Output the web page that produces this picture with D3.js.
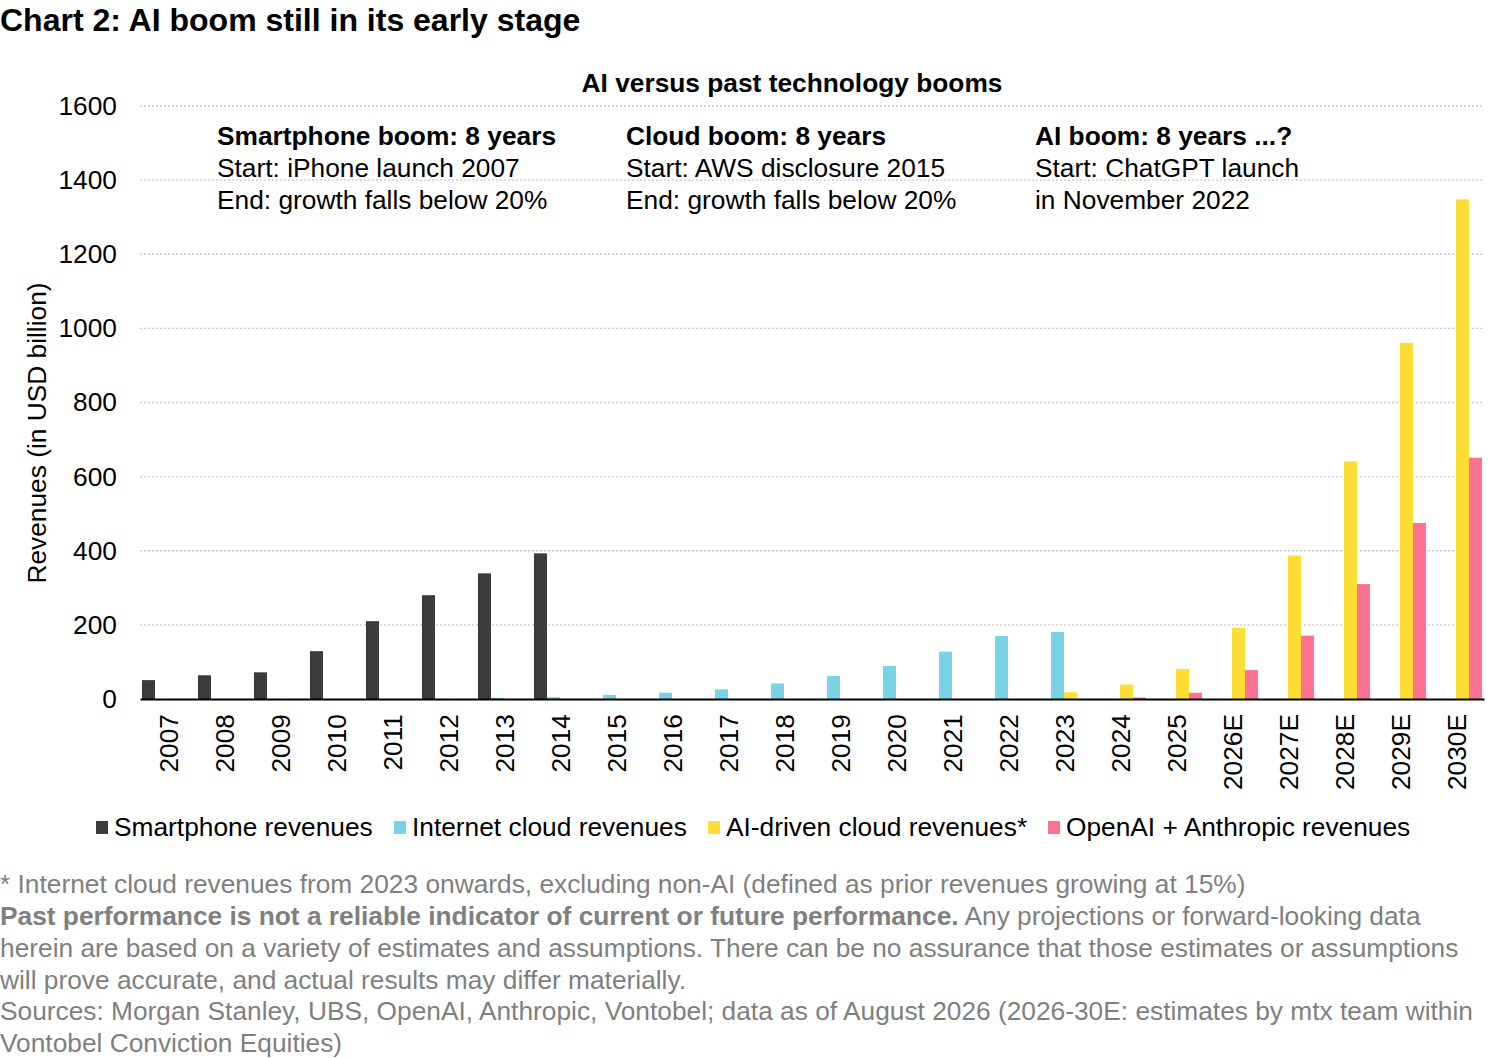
<!DOCTYPE html>
<html>
<head>
<meta charset="utf-8">
<script src="https://cdn.jsdelivr.net/npm/d3@7/dist/d3.min.js"></script>
<style>
  body { margin: 0; background: #fff; }
  svg { display: block; font-family: "Liberation Sans", Arial, sans-serif; }
</style>
</head>
<body>
<svg id="chart" width="1500" height="1058"></svg>
<script>
// data
const years = ["2007", "2008", "2009", "2010", "2011", "2012", "2013", "2014", "2015", "2016", "2017", "2018",
  "2019", "2020", "2021", "2022", "2023", "2024", "2025", "2026E", "2027E", "2028E", "2029E", "2030E"];
const smartphone = [51, 64, 72, 129, 210, 280, 339, 393, null, null, null, null,
  null, null, null, null, null, null, null, null, null, null, null, null];
const cloud = [null, null, null, null, null, null, 3, 5, 11, 17, 26, 42,
  62, 89, 128, 170, 181, null, null, null, null, null, null, null];
const aiCloud = [null, null, null, null, null, null, null, null, null, null, null, null,
  null, null, null, null, 18, 39, 81, 192, 387, 641, 961, 1348];
const labs = [null, null, null, null, null, null, null, null, null, null, null, null,
  null, null, null, null, null, 4, 17, 78, 171, 310, 475, 651];
const yTicks = [0, 200, 400, 600, 800, 1000, 1200, 1400, 1600];

const seriesNames = ["Smartphone revenues", "Internet cloud revenues", "AI-driven cloud revenues*", "OpenAI + Anthropic revenues"];
const seriesValues = [smartphone, cloud, aiCloud, labs];
const colors = ["#3b3c39", "#79d3e6", "#fedd35", "#fc7290"];

const FS = 26.3;
const svg = d3.select("#chart");

const x0 = d3.scaleBand().domain(years).range([140, 1484]).paddingInner(0.07).paddingOuter(0.035);
const x1 = d3.scaleBand().domain(seriesNames).range([0, x0.bandwidth()]);
const y = d3.scaleLinear().domain([0, 1600]).range([699, 106]);

// gridlines
svg.append("g")
  .selectAll("line")
  .data(yTicks.filter(d => d > 0))
  .join("line")
  .attr("x1", 140).attr("x2", 1484)
  .attr("y1", d => y(d)).attr("y2", d => y(d))
  .attr("stroke", "#c9c9c9")
  .attr("stroke-width", 1.3)
  .attr("stroke-dasharray", "2,2");

// y axis labels
const yAxis = svg.append("g")
  .attr("transform", "translate(140,0)")
  .call(d3.axisLeft(y).tickValues(yTicks).tickFormat(d3.format("d")).tickSize(0).tickPadding(23));
yAxis.select(".domain").remove();
yAxis.selectAll("text").attr("font-size", FS).attr("fill", "#000").attr("font-family", "Liberation Sans, Arial, sans-serif");

svg.append("text")
  .attr("transform", "translate(46,433) rotate(-90)")
  .attr("text-anchor", "middle")
  .attr("font-size", FS)
  .text("Revenues (in USD billion)");

// bars
const rows = years.map((yr, i) => ({ yr, vals: seriesValues.map((s, j) => ({ name: seriesNames[j], v: s[i], c: colors[j] })) }));
svg.append("g")
  .selectAll("g")
  .data(rows)
  .join("g")
  .attr("transform", d => `translate(${x0(d.yr)},0)`)
  .selectAll("rect")
  .data(d => d.vals.filter(v => v.v != null))
  .join("rect")
  .attr("x", d => x1(d.name))
  .attr("width", x1.bandwidth())
  .attr("y", d => y(d.v))
  .attr("height", d => y(0) - y(d.v))
  .attr("fill", d => d.c);

// x axis
const xAxis = svg.append("g")
  .attr("transform", `translate(0,${y(0)})`)
  .call(d3.axisBottom(x0).tickSize(0).tickSizeOuter(0));
xAxis.select(".domain").attr("stroke", "#000").attr("stroke-width", 2);
xAxis.selectAll("text")
  .attr("font-size", FS)
  .attr("fill", "#000")
  .attr("font-family", "Liberation Sans, Arial, sans-serif")
  .attr("text-anchor", "end")
  .attr("transform", "rotate(-90)")
  .attr("x", -15)
  .attr("y", 1)
  .attr("dy", "0.36em");

// titles
svg.append("text")
  .attr("x", 0).attr("y", 31)
  .attr("font-size", 32).attr("font-weight", "bold")
  .text("Chart 2: AI boom still in its early stage");

svg.append("text")
  .attr("x", 792).attr("y", 92)
  .attr("text-anchor", "middle")
  .attr("font-size", FS).attr("font-weight", "bold")
  .text("AI versus past technology booms");

// boom annotations
const notes = [
  { x: 217, lines: ["Smartphone boom: 8 years", "Start: iPhone launch 2007", "End: growth falls below 20%"] },
  { x: 626, lines: ["Cloud boom: 8 years", "Start: AWS disclosure 2015", "End: growth falls below 20%"] },
  { x: 1035, lines: ["AI boom: 8 years ...?", "Start: ChatGPT launch", "in November 2022"] }
];
notes.forEach(n => {
  n.lines.forEach((t, i) => {
    svg.append("text")
      .attr("x", n.x).attr("y", 145 + i * 32)
      .attr("font-size", FS)
      .attr("font-weight", i === 0 ? "bold" : "normal")
      .text(t);
  });
});

// legend
const legendX = [96, 394, 708, 1048];
const legend = svg.append("g")
  .selectAll("g")
  .data(seriesNames)
  .join("g")
  .attr("transform", (d, i) => `translate(${legendX[i]},0)`);
legend.append("rect")
  .attr("x", 0).attr("y", 821)
  .attr("width", 12).attr("height", 13)
  .attr("fill", (d, i) => colors[i]);
legend.append("text")
  .attr("x", 18).attr("y", 836)
  .attr("font-size", FS)
  .text(d => d);

// footnotes
const foot = svg.append("g").attr("fill", "#7f7f7f").attr("font-size", FS);
foot.append("text").attr("x", 0).attr("y", 893)
  .text("* Internet cloud revenues from 2023 onwards, excluding non-AI (defined as prior revenues growing at 15%)");
const l2 = foot.append("text").attr("x", 0).attr("y", 925);
l2.append("tspan").attr("font-weight", "bold").text("Past performance is not a reliable indicator of current or future performance.");
l2.append("tspan").text(" Any projections or forward-looking data");
foot.append("text").attr("x", 0).attr("y", 957)
  .text("herein are based on a variety of estimates and assumptions. There can be no assurance that those estimates or assumptions");
foot.append("text").attr("x", 0).attr("y", 989)
  .text("will prove accurate, and actual results may differ materially.");
foot.append("text").attr("x", 0).attr("y", 1020)
  .text("Sources: Morgan Stanley, UBS, OpenAI, Anthropic, Vontobel; data as of August 2026 (2026-30E: estimates by mtx team within");
foot.append("text").attr("x", 0).attr("y", 1052)
  .text("Vontobel Conviction Equities)");
</script>
</body>
</html>
